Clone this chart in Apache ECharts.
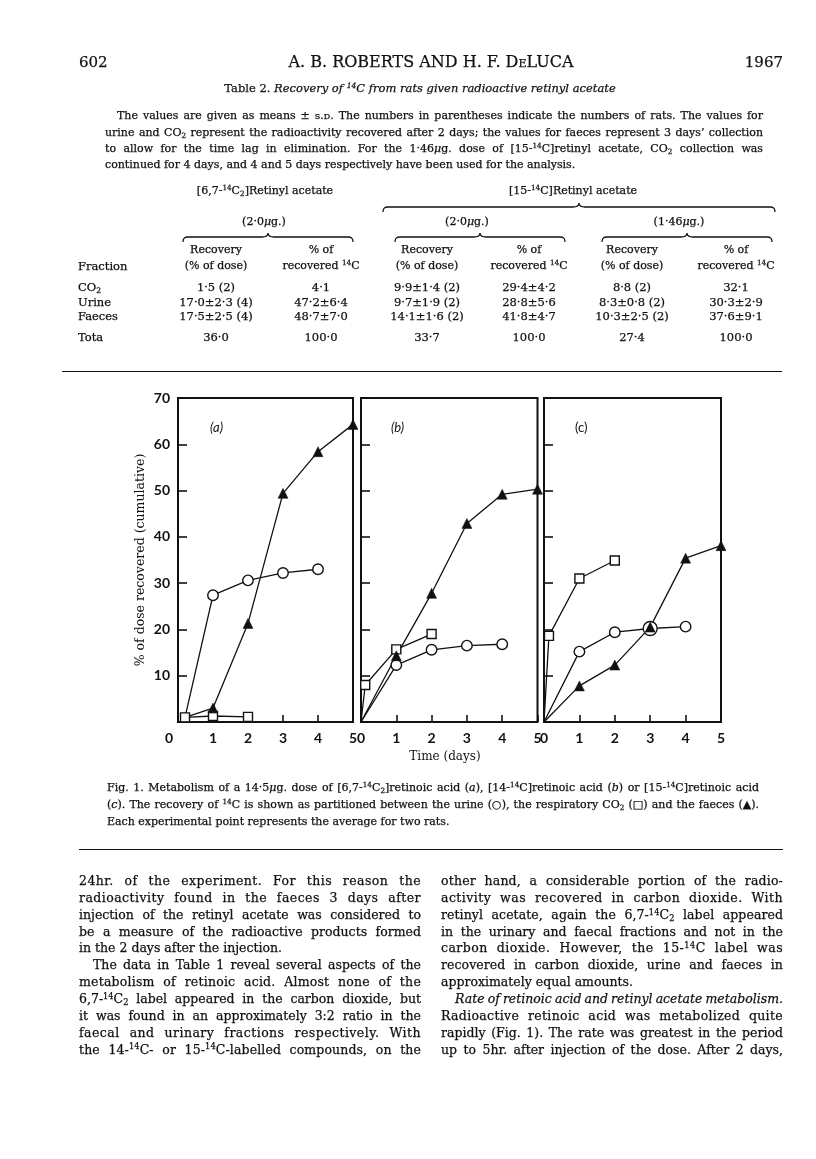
<!DOCTYPE html>
<html><head><meta charset="utf-8">
<script src="https://cdn.jsdelivr.net/npm/echarts@6/dist/echarts.min.js"></script>
<style>
html,body{margin:0;padding:0;background:#fff;}
#page{position:relative;width:816px;height:1159px;overflow:hidden;background:#fff;color:#111;font-family:"DejaVu Serif",serif;}
#chart{position:absolute;left:0;top:0;width:816px;height:1159px;z-index:0;}
#svg{position:absolute;left:0;top:0;z-index:1;}
.t{position:absolute;white-space:nowrap;line-height:16px;height:16px;z-index:2;-webkit-text-stroke:0.25px #111;}
sup{font-size:0.66em;vertical-align:0;position:relative;top:-0.5em;line-height:0;}
sub{font-size:0.66em;vertical-align:0;position:relative;top:0.3em;line-height:0;}
.sc{font-variant:small-caps;}
.rule{position:absolute;height:0;border-top:1.6px solid #111;z-index:1;}
</style></head>
<body>
<div id="page">
  <div id="chart"></div>
  <svg id="svg" width="816" height="1159"></svg>
  <div class="rule" style="left:62px;width:720px;top:371px;"></div>
  <div class="rule" style="left:79px;width:704px;top:849px;"></div>
</div>
<script>
// ---------------- data ----------------
const xTicks = [0, 1, 2, 3, 4, 5];          // Time (days)
const yTicks = [0, 10, 20, 30, 40, 50, 60, 70];
// panel (a) [6,7-14C2]retinoic acid
const urineA  = [[0.2, 1.0], [1, 27.4], [2, 30.6], [3, 32.2], [4, 33.0]];
const co2A    = [[0.2, 1.0], [1, 1.3], [2, 1.1]];
const faecesA = [[0.2, 1.0], [1, 3.0], [2, 21.3], [3, 49.4], [4, 58.4], [5, 64.3]];
// panel (b) [14-14C]retinoic acid
const urineB  = [[0, 0], [1, 12.3], [2, 15.6], [3, 16.5], [4, 16.8]];
const co2B    = [[0, 0], [0.12, 8.0], [1, 15.7], [2, 19.0]];
const faecesB = [[0, 0], [1, 14.3], [2, 27.8], [3, 42.9], [4, 49.2], [5, 50.3]];
// panel (c) [15-14C]retinoic acid
const urineC  = [[0, 0], [1, 15.2], [2, 19.4], [3, 20.2], [4, 20.6]];
const co2C    = [[0, 0], [0.14, 18.6], [1, 31.0], [2, 34.9]];
const faecesC = [[0, 0], [1, 7.8], [2, 12.3], [3, 20.5], [4, 35.4], [5, 38.1]];
const panelTags = ['(a)', '(b)', '(c)'];

// ---------------- page text ----------------
const S = '<sup>14</sup>';
const MU = '<i>μ</i>';
const page = document.getElementById('page');
function place(l){
  const d = document.createElement('div');
  d.className = 't';
  d.innerHTML = l.h;
  d.style.fontSize = l.s + 'px';
  if (l.i) d.style.fontStyle = 'italic';
  d.style.top = (l.y - 8) + 'px';
  d.style.left = '0px';
  page.appendChild(d);
  const w = d.getBoundingClientRect().width;
  if (l.a === 'j') {
    d.style.left = l.x + 'px';
    const txt = d.textContent;
    const n = (txt.match(/[ \u00a0]/g) || []).length;
    const chars = txt.length;
    let slack = l.w - w;
    let ls = 0;
    if (slack > 4.5 * n) { ls = Math.min(0.45, (slack - 4.5 * n) / chars); d.style.letterSpacing = ls + 'px'; }
    const w1 = d.getBoundingClientRect().width;
    let ws = (l.w - w1) / Math.max(n, 1);
    if (ws < -1.5) ws = -1.5;
    d.style.wordSpacing = ws + 'px';
    const w2 = d.getBoundingClientRect().width;
    if (w2 > l.w + 0.5) { d.style.transformOrigin = '0 50%'; d.style.transform = 'scaleX(' + (l.w / w2) + ')'; }
  } else if (l.a === 'c') {
    d.style.left = (l.x - w / 2) + 'px';
  } else if (l.a === 'r') {
    d.style.left = (l.x - w) + 'px';
  } else {
    d.style.left = l.x + 'px';
  }
}
const lines = [];
// header
lines.push({x:79, y:62, s:15, a:'l', h:'602'});
lines.push({x:431, y:62, s:16, a:'c', h:'A. B. ROBERTS AND H. F. D<span class="sc">e</span>LUCA'});
lines.push({x:783, y:62, s:15, a:'r', h:'1967'});
lines.push({x:420, y:88, s:11.5, a:'c', h:'Table 2. <i>Recovery of ' + S + 'C from rats given radioactive retinyl acetate</i>'});
// table note
const noteY = [116, 132.5, 149, 165];
lines.push({x:117, y:noteY[0], w:646, s:11, a:'j', h:'The values are given as means ± <span class="sc">s.d.</span> The numbers in parentheses indicate the numbers of rats. The values for'});
lines.push({x:105, y:noteY[1], w:658, s:11, a:'j', h:'urine and CO<sub>2</sub> represent the radioactivity recovered after 2 days; the values for faeces represent 3 days’ collection'});
lines.push({x:105, y:noteY[2], w:658, s:11, a:'j', h:'to allow for the time lag in elimination. For the 1·46' + MU + 'g. dose of [15-' + S + 'C]retinyl acetate, CO<sub>2</sub> collection was'});
lines.push({x:105, y:noteY[3], s:11, a:'l', h:'continued for 4 days, and 4 and 5 days respectively have been used for the analysis.'});
// table headings
lines.push({x:265, y:191, s:11, a:'c', h:'[6,7-' + S + 'C<sub>2</sub>]Retinyl acetate'});
lines.push({x:573, y:191, s:11, a:'c', h:'[15-' + S + 'C]Retinyl acetate'});
lines.push({x:264, y:222, s:11, a:'c', h:'(2·0' + MU + 'g.)'});
lines.push({x:467, y:222, s:11, a:'c', h:'(2·0' + MU + 'g.)'});
lines.push({x:679, y:222, s:11, a:'c', h:'(1·46' + MU + 'g.)'});
const colX = [216, 321, 427, 529, 632, 736];
const head1 = ['Recovery', '% of', 'Recovery', '% of', 'Recovery', '% of'];
const head2 = ['(% of dose)', 'recovered ' + S + 'C', '(% of dose)', 'recovered ' + S + 'C', '(% of dose)', 'recovered ' + S + 'C'];
head1.forEach((h, k) => lines.push({x:colX[k], y:250, s:11, a:'c', h:h}));
head2.forEach((h, k) => lines.push({x:colX[k], y:266, s:11, a:'c', h:h}));
lines.push({x:78, y:266, s:11.5, a:'l', h:'Fraction'});
const rowNames = ['CO<sub>2</sub>', 'Urine', 'Faeces', 'Tota'];
const rowY = [287, 301.5, 316, 337];
const tableRows = [
  ['1·5 (2)', '4·1', '9·9±1·4 (2)', '29·4±4·2', '8·8 (2)', '32·1'],
  ['17·0±2·3 (4)', '47·2±6·4', '9·7±1·9 (2)', '28·8±5·6', '8·3±0·8 (2)', '30·3±2·9'],
  ['17·5±2·5 (4)', '48·7±7·0', '14·1±1·6 (2)', '41·8±4·7', '10·3±2·5 (2)', '37·6±9·1'],
  ['36·0', '100·0', '33·7', '100·0', '27·4', '100·0']
];
tableRows.forEach((r, i) => {
  lines.push({x:78, y:rowY[i], s:11.5, a:'l', h:rowNames[i]});
  r.forEach((v, k) => lines.push({x:colX[k], y:rowY[i], s:11.5, a:'c', h:v}));
});
// caption
lines.push({x:107, y:788, w:652, s:11, a:'j', h:'Fig. 1. Metabolism of a 14·5' + MU + 'g. dose of [6,7-' + S + 'C<sub>2</sub>]retinoic acid (<i>a</i>), [14-' + S + 'C]retinoic acid (<i>b</i>) or [15-' + S + 'C]retinoic acid'});
lines.push({x:107, y:805, w:652, s:11, a:'j', h:'(<i>c</i>). The recovery of ' + S + 'C is shown as partitioned between the urine (○), the respiratory CO<sub>2</sub> (□) and the faeces (▲).'});
lines.push({x:107, y:822, s:11, a:'l', h:'Each experimental point represents the average for two rats.'});
// body text
const leftCol = [
  ['j', 0, '24hr. of the experiment. For this reason the'],
  ['j', 0, 'radioactivity found in the faeces 3 days after'],
  ['j', 0, 'injection of the retinyl acetate was considered to'],
  ['j', 0, 'be a measure of the radioactive products formed'],
  ['l', 0, 'in the 2 days after the injection.'],
  ['j', 14, 'The data in Table 1 reveal several aspects of the'],
  ['j', 0, 'metabolism of retinoic acid. Almost none of the'],
  ['j', 0, '6,7-' + S + 'C<sub>2</sub> label appeared in the carbon dioxide, but'],
  ['j', 0, 'it was found in an approximately 3:2 ratio in the'],
  ['j', 0, 'faecal and urinary fractions respectively. With'],
  ['j', 0, 'the 14-' + S + 'C- or 15-' + S + 'C-labelled compounds, on the']
];
const rightCol = [
  ['j', 0, 'other hand, a considerable portion of the radio-'],
  ['j', 0, 'activity was recovered in carbon dioxide. With'],
  ['j', 0, 'retinyl acetate, again the 6,7-' + S + 'C<sub>2</sub> label appeared'],
  ['j', 0, 'in the urinary and faecal fractions and not in the'],
  ['j', 0, 'carbon dioxide. However, the 15-' + S + 'C label was'],
  ['j', 0, 'recovered in carbon dioxide, urine and faeces in'],
  ['l', 0, 'approximately equal amounts.'],
  ['j', 14, '<i>Rate of retinoic acid and retinyl acetate metabolism.</i>'],
  ['j', 0, 'Radioactive retinoic acid was metabolized quite'],
  ['j', 0, 'rapidly (Fig. 1). The rate was greatest in the period'],
  ['j', 0, 'up to 5hr. after injection of the dose. After 2 days,']
];
const bodyY0 = 881, bodyDY = 16.85;
leftCol.forEach((l, k) => lines.push({x:79 + l[1], y:bodyY0 + k * bodyDY, w:342 - l[1], s:12.5, a:l[0], h:l[2]}));
rightCol.forEach((l, k) => lines.push({x:441 + l[1], y:bodyY0 + k * bodyDY, w:342 - l[1], s:12.5, a:l[0], h:l[2]}));
lines.forEach(place);

// braces over the table columns
const svg = document.getElementById('svg');
function brace(x1, x2, xm, y){
  const p = document.createElementNS('http://www.w3.org/2000/svg', 'path');
  const d = `M${x1} ${y+5} C${x1} ${y+1.5} ${x1+1} ${y} ${x1+5} ${y} L${xm-6} ${y} C${xm-2} ${y} ${xm} ${y-1} ${xm} ${y-4} C${xm} ${y-1} ${xm+2} ${y} ${xm+6} ${y} L${x2-5} ${y} C${x2-1} ${y} ${x2} ${y+1.5} ${x2} ${y+5}`;
  p.setAttribute('d', d); p.setAttribute('fill', 'none'); p.setAttribute('stroke', '#111'); p.setAttribute('stroke-width', '1.3');
  svg.appendChild(p);
}
brace(383, 775, 579, 207);
brace(183, 353, 268, 237);
brace(395, 565, 480, 237);
brace(602, 772, 687, 237);

// ---------------- chart ----------------
const INK = '#111';
const panels = [
  {left:178, width:175, tagX:210, italic:true,  urine:urineA, co2:co2A, faeces:faecesA, hideCo2First:false, bigUrine:-1},
  {left:361, width:176.5, tagX:391, italic:true,  urine:urineB, co2:co2B, faeces:faecesB, hideCo2First:true, bigUrine:-1},
  {left:544, width:177, tagX:575, italic:false, urine:urineC, co2:co2C, faeces:faecesC, hideCo2First:true, bigUrine:3}
];
const TOP = 398, HEIGHT = 324;
function pts(arr, hideFirst, big, bigSize){
  return arr.map((p, k) => {
    const o = {value:p};
    if (hideFirst && k === 0) o.symbol = 'none';
    if (k === big) o.symbolSize = bigSize;
    return o;
  });
}
const chart = echarts.init(document.getElementById('chart'), null, {renderer:'canvas'});
const grids = [], xAxes = [], yAxes = [], series = [], graphics = [];
panels.forEach((p, i) => {
  grids.push({left:p.left, top:TOP, width:p.width, height:HEIGHT, show:true, borderColor:INK, borderWidth:2, backgroundColor:'transparent'});
  xAxes.push({type:'value', gridIndex:i, min:xTicks[0], max:xTicks[xTicks.length-1], interval:1,
    axisLine:{show:false}, splitLine:{show:false},
    axisTick:{show:true, inside:true, length:7, lineStyle:{color:INK, width:1.6}},
    axisLabel:{show:true, margin:9, color:INK, fontFamily:'Lato', fontWeight:'bold', fontSize:14,
      formatter: v => (i === 0 && v === 0) ? '{z|0}' : String(v),
      rich:{z:{padding:[0,18,0,0], fontFamily:'Lato', fontWeight:'bold', fontSize:14, color:INK}}}
  });
  yAxes.push({type:'value', gridIndex:i, min:yTicks[0], max:yTicks[yTicks.length-1], interval:10,
    axisLine:{show:false}, splitLine:{show:false},
    axisTick:{show:true, inside:true, length:9, lineStyle:{color:INK, width:1.6}},
    axisLabel:{show:i === 0, margin:8, color:INK, fontFamily:'Lato', fontWeight:'bold', fontSize:14,
      formatter: v => v === 0 ? '' : String(v)}
  });
  const base = {type:'line', xAxisIndex:i, yAxisIndex:i, animation:false, silent:true,
    lineStyle:{color:INK, width:1.3}};
  series.push(Object.assign({}, base, {name:'Urine', symbol:'circle', symbolSize:10.5,
    itemStyle:{color:'#fff', borderColor:INK, borderWidth:1.4},
    data:pts(p.urine, true, p.bigUrine, 14)}));
  series.push(Object.assign({}, base, {name:'CO2', symbol:'rect', symbolSize:9,
    itemStyle:{color:'#fff', borderColor:INK, borderWidth:1.4},
    data:pts(p.co2, p.hideCo2First, -1, 0)}));
  series.push(Object.assign({}, base, {name:'Faeces', symbol:'triangle', symbolSize:10,
    itemStyle:{color:INK, borderColor:INK, borderWidth:0.5},
    data:pts(p.faeces, true, -1, 0)}));
  graphics.push({type:'text', left:p.tagX, top:421, style:{text:panelTags[i], fill:INK,
    font:(p.italic ? 'italic ' : '') + '13px Lato'}});
});
graphics.push({type:'text', x:141, y:560, rotation:Math.PI/2, style:{text:'% of dose recovered (cumulative)',
  fill:INK, font:'12.5px "DejaVu Serif"', align:'center', verticalAlign:'middle'}});
graphics.push({type:'text', x:445, y:757, style:{text:'Time (days)', fill:INK, font:'12px "DejaVu Serif"',
  align:'center', verticalAlign:'middle'}});
chart.setOption({backgroundColor:'transparent', animation:false, grid:grids, xAxis:xAxes, yAxis:yAxes,
  series:series, graphic:graphics});
</script>
</body></html>
